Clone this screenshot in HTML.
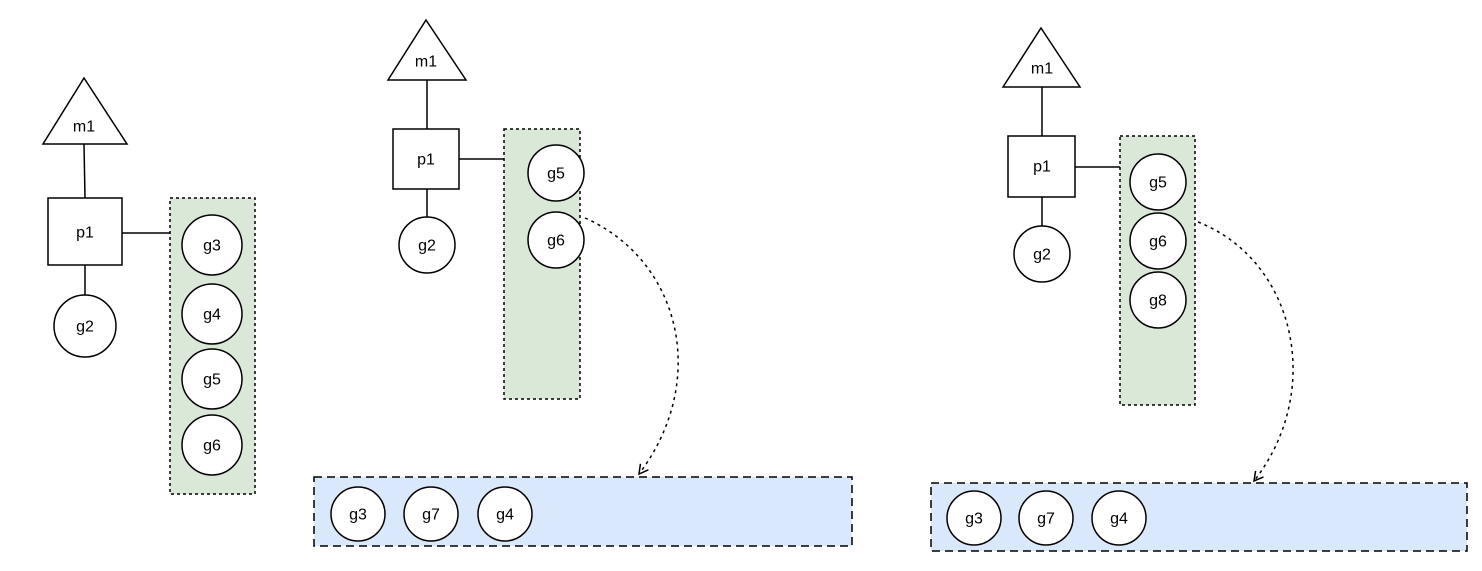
<!DOCTYPE html>
<html><head><meta charset="utf-8"><style>
html,body{margin:0;padding:0;background:#fff;}
svg text{font-family:"Liberation Sans",Arial,sans-serif;font-size:16px;fill:#000;text-anchor:middle;dominant-baseline:central;}
</style></head><body>
<svg width="1482" height="566" viewBox="0 0 1482 566" xmlns="http://www.w3.org/2000/svg">
<defs>
<marker id="ah" markerWidth="14" markerHeight="14" refX="10" refY="6" orient="auto" markerUnits="userSpaceOnUse">
<path d="M1,1 L10,6 L1,11" fill="none" stroke="#000" stroke-width="1.5"/>
</marker>
</defs>
<g stroke="#000" stroke-width="1.5" fill="none">
<!-- Panel 1 -->
<rect x="170" y="198" width="85" height="296" fill="#dae8d8" stroke-dasharray="3,3"/>
<polygon points="84,78 127,144 43,144" fill="#fff"/>
<line x1="84" y1="144" x2="85" y2="198"/>
<rect x="48" y="198" width="74" height="67" fill="#fff"/>
<line x1="85" y1="265" x2="85" y2="295"/>
<circle cx="85" cy="326" r="31" fill="#fff"/>
<line x1="122" y1="233" x2="170" y2="233"/>
<circle cx="212" cy="245" r="30" fill="#fff"/>
<circle cx="212" cy="314" r="30" fill="#fff"/>
<circle cx="212" cy="379" r="30" fill="#fff"/>
<circle cx="212" cy="445" r="30" fill="#fff"/>
<!-- Panel 2 -->
<rect x="504" y="129" width="76" height="270" fill="#dae8d8" stroke-dasharray="3,3"/>
<polygon points="426,20 466,80 388,80" fill="#fff"/>
<line x1="427" y1="80" x2="427" y2="129"/>
<rect x="393" y="129" width="66" height="60" fill="#fff"/>
<line x1="427" y1="189" x2="427" y2="217"/>
<circle cx="427" cy="245" r="28" fill="#fff"/>
<line x1="459" y1="159" x2="504" y2="159"/>
<circle cx="556" cy="173" r="28" fill="#fff"/>
<circle cx="556" cy="240" r="28" fill="#fff"/>
<path d="M585,218 C680,260 710,380 639,474" stroke-dasharray="3,4" marker-end="url(#ah)"/>
<rect x="314" y="477" width="538" height="69" fill="#dae8fb" stroke-dasharray="8,5"/>
<circle cx="358" cy="514" r="27" fill="#fff"/>
<circle cx="431" cy="514" r="27" fill="#fff"/>
<circle cx="505" cy="514" r="27" fill="#fff"/>
<!-- Panel 3 -->
<rect x="1120" y="136" width="75" height="269" fill="#dae8d8" stroke-dasharray="3,3"/>
<polygon points="1041,28 1080,87 1003,87" fill="#fff"/>
<line x1="1042" y1="87" x2="1042" y2="136"/>
<rect x="1008" y="136" width="67" height="61" fill="#fff"/>
<line x1="1042" y1="197" x2="1042" y2="226"/>
<circle cx="1042" cy="254" r="28" fill="#fff"/>
<line x1="1075" y1="167" x2="1120" y2="167"/>
<circle cx="1158" cy="182" r="28" fill="#fff"/>
<circle cx="1158" cy="241" r="28" fill="#fff"/>
<circle cx="1158" cy="300" r="28" fill="#fff"/>
<path d="M1198,222 C1295,260 1325,390 1254,481" stroke-dasharray="3,4" marker-end="url(#ah)"/>
<rect x="931" y="483" width="536" height="68" fill="#dae8fb" stroke-dasharray="8,5"/>
<circle cx="974" cy="518" r="27" fill="#fff"/>
<circle cx="1046" cy="518" r="27" fill="#fff"/>
<circle cx="1119" cy="518" r="27" fill="#fff"/>
</g>
<!-- Labels -->
<text x="84" y="127">m1</text>
<text x="85" y="233">p1</text>
<text x="85" y="327">g2</text>
<text x="212" y="246">g3</text>
<text x="212" y="315">g4</text>
<text x="212" y="380">g5</text>
<text x="212" y="446">g6</text>

<text x="426" y="62">m1</text>
<text x="426" y="160">p1</text>
<text x="427" y="246">g2</text>
<text x="556" y="174">g5</text>
<text x="556" y="241">g6</text>
<text x="358" y="515">g3</text>
<text x="431" y="515">g7</text>
<text x="505" y="515">g4</text>

<text x="1042" y="69">m1</text>
<text x="1042" y="167">p1</text>
<text x="1042" y="255">g2</text>
<text x="1158" y="183">g5</text>
<text x="1158" y="242">g6</text>
<text x="1158" y="301">g8</text>
<text x="974" y="519">g3</text>
<text x="1046" y="519">g7</text>
<text x="1119" y="519">g4</text>
</svg>
</body></html>
